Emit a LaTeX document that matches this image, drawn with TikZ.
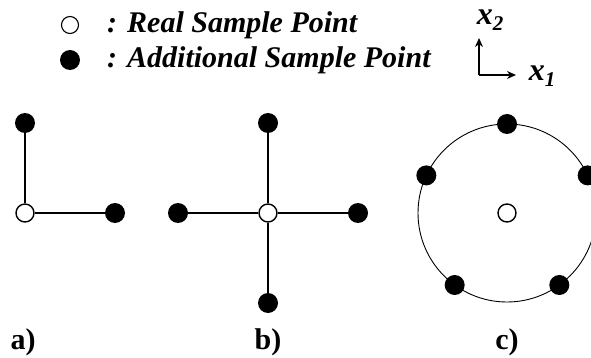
\documentclass[tikz,border=0pt]{standalone}
\usepackage{fontspec}
\setmainfont{Liberation Serif}
\usetikzlibrary{calc,arrows.meta}

\tikzset{
	realpt/.style={circle,draw=black,fill=white,line width=1.4pt,inner sep=0pt,minimum size=18pt},
	addpt/.style={circle,fill=black,inner sep=0pt,minimum size=20pt},
	arm/.style={line width=1.6pt},
	lbl/.style={font=\fontsize{30}{32}\selectfont\bfseries}
}

\begin{document}
\begin{tikzpicture}[x=1pt,y=-1pt]
	\useasboundingbox (0,0) rectangle (591,358);
	
	% legend
	\node[realpt,minimum size=17pt,line width=1.1pt] (legreal) at (70,25) {};
	\node[addpt,minimum size=20pt] (legadd) at (70,60) {};
	\node[anchor=west,lbl,inner sep=0pt] (legrealtxt) at (107,25) {\itshape : Real Sample Point};
	\node[anchor=west,lbl,inner sep=0pt] (legaddtxt) at (107,60) {\itshape : Additional Sample Point};
	
	% axes
	\coordinate (axo) at (479,75);
	\coordinate (axtwo) at (479,38);
	\coordinate (axone) at (516,75);
	\draw[line width=1.3pt,-{Stealth[length=9pt,width=8pt]}] (axo) -- (axtwo);
	\draw[line width=1.3pt,-{Stealth[length=9pt,width=8pt]}] (axo) -- (axone);
	\node[font=\fontsize{32}{34}\selectfont\bfseries\itshape] (xtwo) at (490,20) {x\raisebox{-6pt}{\fontsize{21}{21}\selectfont 2}};
	\node[font=\fontsize{32}{34}\selectfont\bfseries\itshape] (xone) at (542,76) {x\raisebox{-6pt}{\fontsize{21}{21}\selectfont 1}};
	
	% a)
	\begin{scope}[xshift=25pt]
		\node[realpt] (ca) at (0,213) {};
		\node[addpt] (ua) at (0,123) {};
		\node[addpt] (ra) at (90,213) {};
		\draw[arm] (ca) -- (ua);
		\draw[arm] (ca) -- (ra);
		\node[lbl] (laba) at (-2,342) {a)};
	\end{scope}
	
	% b)
	\begin{scope}[xshift=268pt]
		\node[realpt] (cb) at (0,213) {};
		\node[addpt] (ub) at (0,123) {};
		\node[addpt] (rb) at (90,213) {};
		\node[addpt] (db) at (0,303) {};
		\node[addpt] (lb) at (-90,213) {};
		\foreach \p in {ub,rb,db,lb}
			\draw[arm] (cb) -- (\p);
		\node[lbl] (labb) at (0,342) {b)};
	\end{scope}
	
	% c)
	\begin{scope}[xshift=507pt]
		\draw[line width=0.9pt] (0,213) circle (89);
		\node[realpt] (cc) at (0,213) {};
		\foreach \a/\n in {90/uc,155/lc,234/dlc,306/drc,25/rc}
			\node[addpt] (\n) at ($(0,213)+(-\a:89)$) {};
		\node[lbl] (labc) at (0,342) {c)};
	\end{scope}
\end{tikzpicture}
\end{document}
